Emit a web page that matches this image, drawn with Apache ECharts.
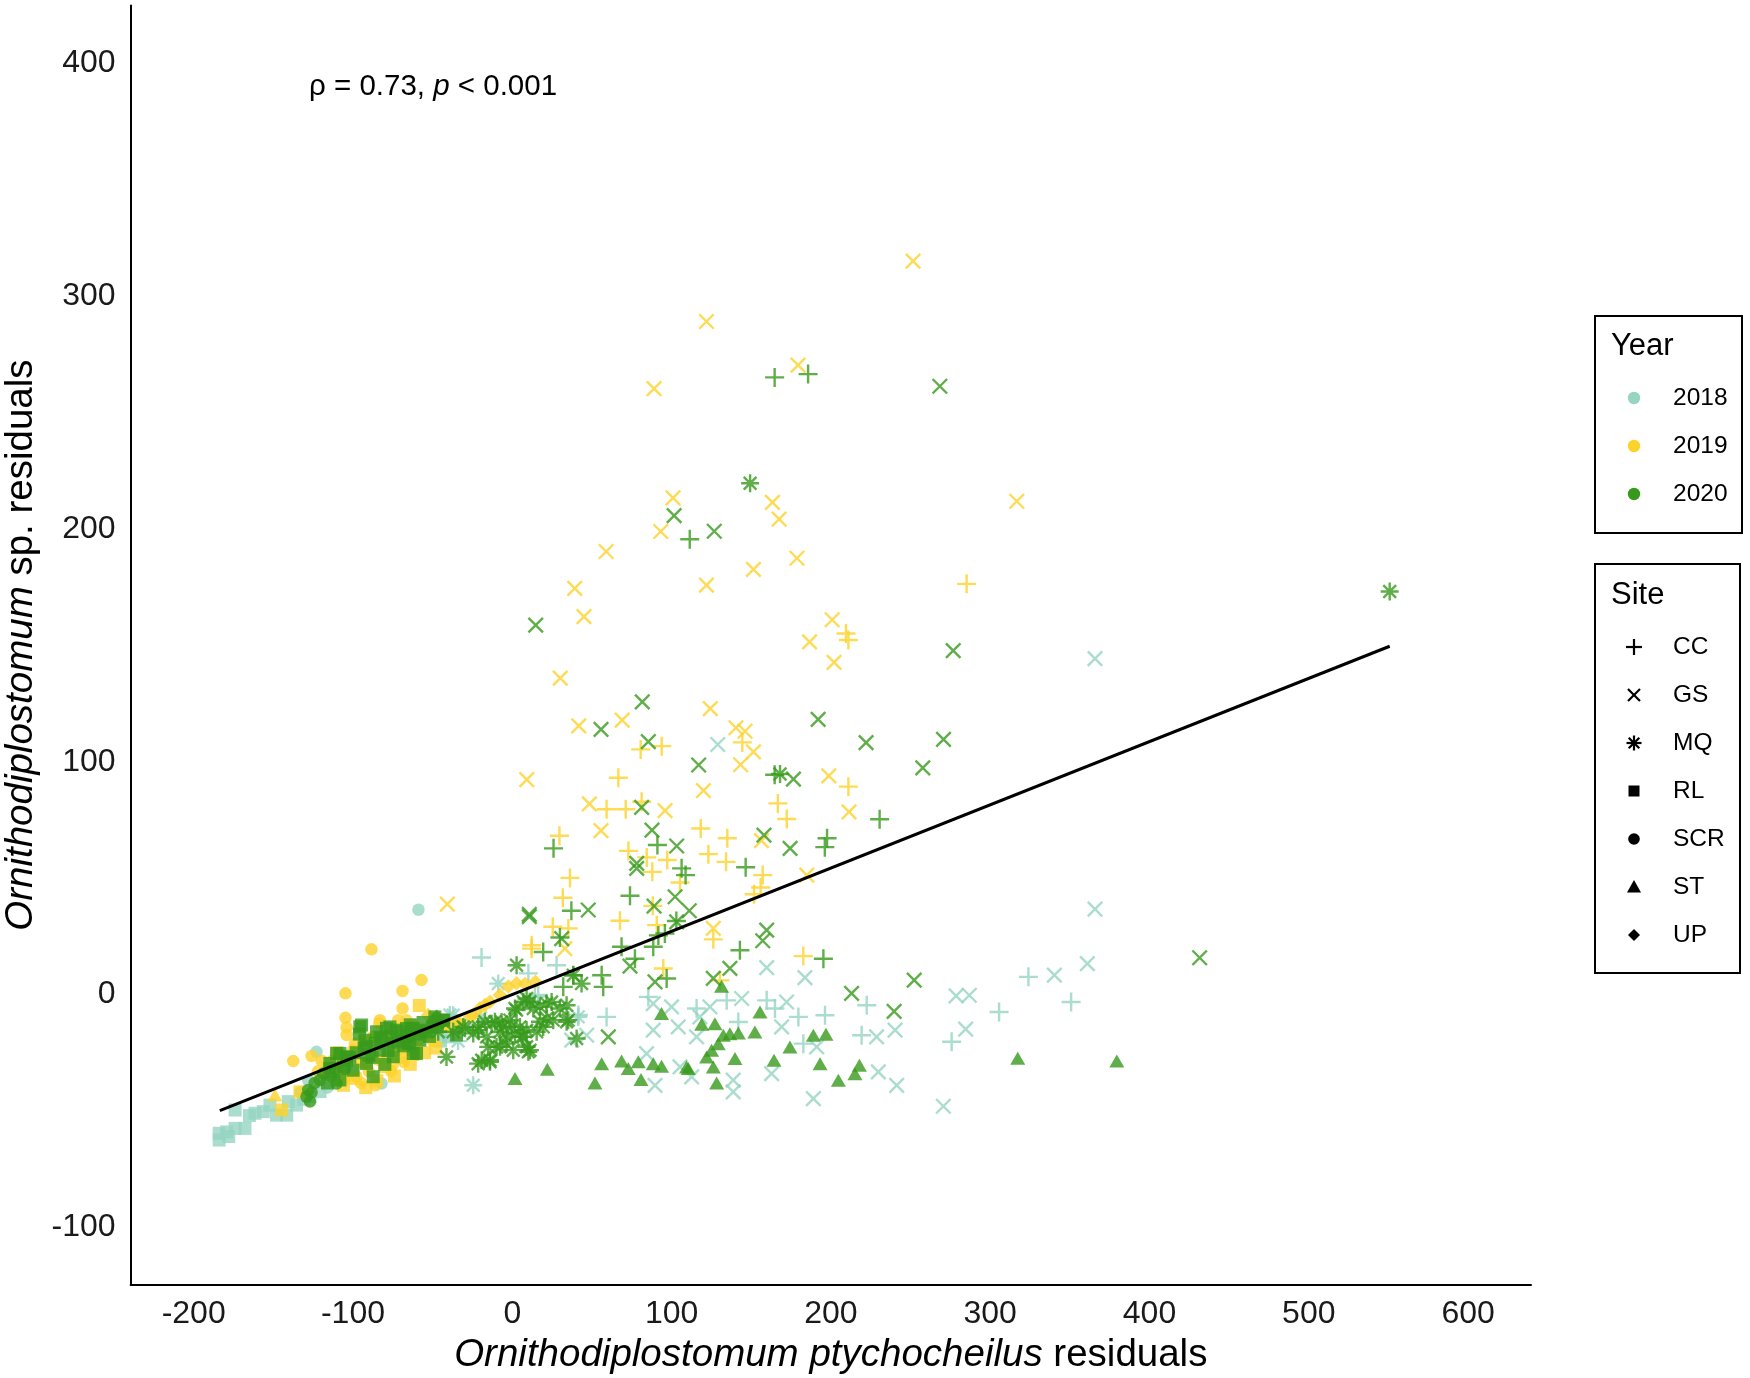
<!DOCTYPE html>
<html><head><meta charset="utf-8">
<script src="https://cdn.jsdelivr.net/npm/echarts@6/dist/echarts.min.js"></script>
<style>html,body{margin:0;padding:0;background:#fff}#c{width:1750px;height:1378px}</style>
</head><body><div id="c"></div>
<script>
// ---------------- data ----------------
const years = ['2018', '2019', '2020'];
const sites = ['CC', 'GS', 'MQ', 'RL', 'SCR', 'ST', 'UP'];
const xTicks = [-200, -100, 0, 100, 200, 300, 400, 500, 600];
const yTicks = [-100, 0, 100, 200, 300, 400];
const fitX = [-183.6, 550.8];
const fitY = [-49.9, 149.6];

const y2018_RL = [[-184,-62.5],[-184,-59.6],[-179.3,-59],[-174,-57.5],[-167.8,-57.5],[-174,-49.6],[-161.5,-51],[-156.3,-50.3],[-152.1,-47.5],[-148,-51.8],[-141.6,-51.8],[-140.6,-46],[-135.4,-47.5],[-127,-43.9],[-120.7,-41.7],[-165,-52],[-131,-45],[-178,-61],[-40.2,-18.2],[-45,-20]];
const y2018_SCR = [[-122.9,-24.6],[-82.1,-38.2],[-58.9,36.4],[-112,-30],[-128,-37],[-100,-33],[-116,-40],[-133,-42]];
const y2018_MQ = [[-24.5,-39],[-8.8,4.7],[41.4,-9.6],[-39.2,-8.8],[-20,-10],[-34,-20],[-37.1,-8.9]];
const y2018_CC = [[-19.3,15.9],[27.8,12.6],[85.4,-1],[59.2,-9.6],[115.7,-6],[134.6,-2.5],[159.7,-2.5],[164.9,-6],[179.6,-9.6],[196.3,-8.9],[222.5,-4.6],[182.7,-21.1],[141.9,-11.8],[324,7.6],[350.8,-3.2],[305.6,-7.5],[275.8,-20.3],[219.3,-17.5],[10.1,9.1],[16.3,-0.2],[41.5,-8.8],[14.2,-1]];
const y2018_GS = [[88.5,-3.9],[100,-5.3],[88.5,-15.3],[104.2,-13.9],[115.7,-18.2],[124.1,-5.3],[117.8,-9.6],[144,-1.7],[159.7,11.6],[169.1,-13.9],[172.2,-3.2],[183.7,7.3],[191.1,-22.5],[162.8,-34],[138.7,-36.8],[138.7,-41.8],[112.6,-35.4],[105.3,-31.1],[89.6,-39],[84.3,-25.4],[189,-44.7],[229.8,-33.2],[241.3,-39],[228.7,-18.2],[240.3,-15.3],[46.7,-17.5],[365.8,36.7],[340.3,8.3],[361,13.3],[278.6,-0.6],[286.9,-0.3],[284.6,-14.9],[270.6,-48],[129,107.4],[365.8,144.3],[37.3,-19.6]];

const y2019_CC = [[285.2,176.4],[209.5,155.1],[211,152.3],[211,89.3],[59.2,79.6],[71.2,79.6],[81.2,82.8],[80.6,105.3],[93.8,106.7],[144.4,108.3],[66.6,93.1],[166.7,82.1],[172.3,75.4],[118.3,71.3],[135,67.1],[123.1,60.3],[134.2,57],[29.6,68.2],[72.9,61.7],[84.4,58.9],[97.3,57.8],[87.9,52.7],[157.2,51.3],[36.2,50.1],[105.3,48.1],[155.9,46],[151.8,43.1],[31.7,41.6],[88.2,38.1],[67.6,31.7],[25.4,29.1],[35.2,28.4],[126.2,23.7],[90.7,29.8],[12.2,21.2],[12.1,19.7],[182.7,16.5],[94.8,11.2],[130.4,6.1]];
const y2019_GS = [[251.6,315],[121.9,289.1],[179.4,270.4],[89,260.3],[316.7,211.9],[100.9,213.3],[163.3,211.4],[167.5,204.2],[93.2,198.9],[121.9,175.9],[151.4,182.6],[178.7,187.4],[58.9,190.3],[39.2,174.5],[45,162.3],[200.8,161],[186.6,151.5],[202,142.7],[30.1,135.9],[124.3,122.8],[69,117.9],[41.7,115.4],[140.4,114.6],[146.1,113.1],[151.4,104.2],[143.3,98.7],[120,87.6],[9.1,92.3],[198.7,93.9],[48.4,81.9],[95.9,79],[55.7,70.4],[156.4,66.1],[211.4,78.5],[126.2,28.4],[184.9,51.3],[-40.8,38.8],[33,19.7]];
const y2019_SCR = [[-88.4,19.4],[-104.7,0.5],[-68.9,1.5],[-57,6.2],[-68.9,-6],[-104.7,-10],[-104,-14.1],[-104,-17.4],[-137.5,-28.6],[-126,-26.4],[-119.7,-28.4],[-83.5,-12.4],[-71.6,-11],[-66.4,-11],[-98.8,-21],[-93.6,-19.6],[-87.3,-18.1],[-79,-19.6],[-62.2,-13.1],[-99.9,-23.9],[-112.4,-28.2],[-97.8,-35.3],[-90,-33],[-75,-30],[-65,-24],[-55,-18],[-50,-20],[-83.1,-11],[-89.4,-19.6],[-110,-32],[-105,-36],[-92,-30],[-84,-28],[-78,-26],[-72,-24],[-68,-29],[-60,-26],[-116,-31],[-122,-33],[-95,-38],[-86,-39],[-76,-33]];
const y2019_RL = [[-58.4,-4.7],[-144.8,-49.6],[-133.3,-41.8],[-110,-25],[-95,-29],[-80,-31],[-70,-27],[-60,-22],[-100,-36],[-85,-37],[-115,-33],[-106,-39],[-92,-40],[-74,-35],[-64,-30],[-55,-25],[-48,-23]];
const y2019_ST = [[-149,-43.2]];
const y2019_UP = [[-52.8,-8.8],[-48,-11],[-43.4,-13.8],[-40.2,-13.8],[-35,-11.7],[-32.8,-12.4],[-26.6,-9.5],[-24.5,-8.8],[-20.3,-5.9],[-17.1,-4.5],[-14,-3.1],[-7.8,-0.2],[-2.5,3.4],[2.7,4.8],[8,4.5],[14.5,5.5]];

const y2020_CC = [[164.7,265.1],[185.7,266.5],[111.4,195.6],[230.6,75.3],[197.6,67.1],[196.2,63.3],[164.7,94.4],[146.5,54.7],[106.3,54.2],[108.8,51.3],[91.1,64.2],[25.9,62.8],[73.9,42.4],[37.1,36],[103,31.6],[29.9,24.5],[91.7,25.4],[19.4,18.3],[56.1,8.3],[57.1,3.3],[32,3.3],[68.6,20.5],[77,15.4],[88.5,20.5],[96.9,6.9],[142.9,19],[195.3,15.4],[95.8,26.2],[38.3,8.3]];
const y2020_GS = [[268.4,261.3],[101.6,205.7],[126.8,199],[14.7,158.7],[276.8,147.7],[81.6,125.7],[192,118.2],[222.1,108.2],[270.7,109.6],[257.7,97.4],[55.7,113.9],[85.4,108.6],[117,98.6],[176.5,92.5],[81.2,80.4],[87.7,70.6],[103.2,63.8],[158,68.5],[174.4,62.8],[78.1,56.3],[78.1,54.2],[102.2,42],[89,38],[111.1,36],[47.7,36.3],[10.7,34.4],[10.7,33.5],[159.7,27.7],[157.2,23.1],[431.5,15.8],[252.3,6.2],[213,0.5],[239.7,-7.2],[103.2,31.2],[31,24],[73.9,12.2],[89.6,5.4],[60.3,-18.2],[136.6,11.2],[126.2,6.9]];
const y2020_MQ = [[149.3,219.6],[550.8,173.1],[168.1,94.7],[2.7,12.6],[-30.8,-13.9],[-41.3,-26.8],[-21.4,-13.9],[-16.1,-18.2],[-13,-12.5],[-7.8,-16.1],[-1.5,-11],[1.7,-6],[-3.6,-21.1],[-9.9,-22.5],[-15.1,-22.5],[-21.4,-29.7],[-14,-28.2],[4.8,-13.9],[6.9,-18.2],[11.1,-23.9],[13.2,-6],[19.4,-13.9],[24.7,-3.2],[29.9,-6],[34.1,-4.6],[35.1,-11],[40.4,-18.9],[38.3,8.3],[43.5,4.7],[-46.5,-16],[9,-1.7],[15.3,-16],[1.7,-16.8],[-6.7,-11.8],[-37.1,-16],[-24.5,-16.7],[-17.2,-11.7],[-5.7,-13.8],[9,-15.3],[21.5,-3.8],[25.7,-11],[6.9,-3.1],[9,-22.4],[17.4,-5.3],[2.7,-6.7],[-0.4,-13.8],[17.4,-11.7],[21.6,-10.3],[34.1,-11.7],[-10.9,-11.7],[-21.3,-15.3],[-3.5,-18.1],[5.9,-18.1],[-7.7,-22.4],[-19.2,-28.2],[-14,-28.9],[10.1,-24.6],[0.6,-23.9],[-29.7,-14.5],[11.1,-3.1]];
const y2020_RL = [[-94.6,-13.1],[-85.2,-16],[-108.2,-25.3],[-79,-14.5],[-72.7,-15.3],[-62.2,-14.5],[-58,-19.6],[-62.2,-25.3],[-91.5,-22.4],[-83.1,-23.9],[-74.7,-21],[-87.3,-35.3],[-35,-17.4],[-104,-28.2],[-99.9,-32.5],[-114.5,-31.7],[-108.2,-36.7],[-91.5,-29.6],[-74.7,-26.7],[-68,-22],[-96,-17],[-88,-27],[-80,-30],[-66,-18],[-54,-16],[-50,-14],[-116,-38],[-112,-33],[-106,-31],[-102,-27],[-98,-25],[-93,-23],[-90,-26],[-86,-21],[-82,-19],[-78,-24],[-76,-18],[-72,-20],[-70,-16],[-66,-21],[-64,-13],[-60,-17],[-56,-12],[-52,-18],[-47,-14],[-43,-11],[-95.7,-13.9],[-76.8,-13.9],[-66.4,-14.6],[-58,-15.3],[-48.6,-9.6],[-43.3,-11],[-92.5,-19.6],[-83.1,-18.2],[-64.3,-21],[-60.1,-25.3],[-110.3,-25.3],[-104,-26.7],[-114.5,-29.6]];
const y2020_SCR = [[-129.2,-43.9],[-128.1,-41],[-118.7,-33.9],[-110.3,-38.2],[-120.8,-36.7],[-114,-35],[-124,-38],[-105,-32],[-127,-46],[-126,-42]];
const y2020_ST = [[1.7,-36.1],[22,-32.1],[56.1,-29.7],[51.9,-38],[68.6,-28.5],[72.8,-31.8],[79.1,-28.9],[80.8,-36.5],[88.5,-29.7],[93.7,-30.8],[109.4,-31.1],[93.7,-8.2],[118.9,-12.8],[127.2,-12.5],[131.4,3.6],[122,-26.8],[125.1,-23.9],[129.3,-21.1],[126.2,-31.1],[132.5,-17.5],[136.6,-16.8],[141.9,-16.5],[139.8,-27.5],[128.3,-38],[152.3,-16.1],[155.5,-7.5],[164.3,-28.2],[174.3,-22.5],[189,-17.5],[196.9,-17.1],[193.2,-29.7],[204.7,-36.8],[215.1,-34],[217.9,-30.4],[110.5,-31.8],[317.3,-27.4],[379.5,-28.5]];
const y2020_UP = [[-47.5,-9.5],[-49.6,-11.7],[-44,-12]];

// ---------------- styles ----------------
const yearColors = { '2018': '#95D5C2', '2019': '#FDD22A', '2020': '#379A1C' };
const shapes = {
  CC:  { symbol: 'path://M0,5L10,5M5,0L5,10', size: 19, stroke: true },
  GS:  { symbol: 'path://M0,0L10,10M0,10L10,0', size: 14.5, stroke: true },
  MQ:  { symbol: 'path://M0,5L10,5M5,0L5,10M1.46,1.46L8.54,8.54M1.46,8.54L8.54,1.46', size: 18, stroke: true },
  RL:  { symbol: 'rect', size: 13 },
  SCR: { symbol: 'circle', size: 12.5 },
  ST:  { symbol: 'triangle', size: [15, 13] },
  UP:  { symbol: 'diamond', size: [14.5, 14.5] }
};
const groups = [
  ['2018','RL',y2018_RL],['2018','SCR',y2018_SCR],['2018','MQ',y2018_MQ],['2018','CC',y2018_CC],['2018','GS',y2018_GS],
  ['2019','CC',y2019_CC],['2019','GS',y2019_GS],['2019','SCR',y2019_SCR],['2019','RL',y2019_RL],['2019','ST',y2019_ST],['2019','UP',y2019_UP],
  ['2020','CC',y2020_CC],['2020','GS',y2020_GS],['2020','ST',y2020_ST],['2020','MQ',y2020_MQ],['2020','RL',y2020_RL],['2020','SCR',y2020_SCR],['2020','UP',y2020_UP]
];
const FONT = 'Liberation Sans, Arial, sans-serif';

const series = groups.map(([yr, st, pts]) => {
  const sh = shapes[st], c = yearColors[yr];
  return {
    type: 'scatter', name: yr + ' ' + st, data: pts,
    symbol: sh.symbol, symbolSize: sh.size, silent: true, z: 2,
    itemStyle: sh.stroke ? { color: 'rgba(0,0,0,0)', borderColor: c, borderWidth: 2.4 } : { color: c, borderWidth: 0 }
  };
});
series.push({
  type: 'line', name: 'fit', data: fitX.map((x, i) => [x, fitY[i]]),
  showSymbol: false, silent: true, z: 5,
  lineStyle: { color: '#000', width: 3 }
});

// ---------------- legends (graphic) ----------------
function icon(site, cx, cy) {
  const k = '#000', ln = (x1, y1, x2, y2) => ({ type: 'line', shape: { x1, y1, x2, y2 }, style: { stroke: k, lineWidth: 2.2 } });
  switch (site) {
    case 'CC': return [ln(cx-8,cy,cx+8,cy), ln(cx,cy-8,cx,cy+8)];
    case 'GS': return [ln(cx-6,cy-6,cx+6,cy+6), ln(cx-6,cy+6,cx+6,cy-6)];
    case 'MQ': return [ln(cx-7.5,cy,cx+7.5,cy), ln(cx,cy-7.5,cx,cy+7.5), ln(cx-5.3,cy-5.3,cx+5.3,cy+5.3), ln(cx-5.3,cy+5.3,cx+5.3,cy-5.3)];
    case 'RL': return [{ type: 'rect', shape: { x: cx-5.5, y: cy-5.5, width: 11, height: 11 }, style: { fill: k } }];
    case 'SCR': return [{ type: 'circle', shape: { cx, cy, r: 5.8 }, style: { fill: k } }];
    case 'ST': return [{ type: 'polygon', shape: { points: [[cx,cy-7],[cx-7,cy+5.5],[cx+7,cy+5.5]] }, style: { fill: k } }];
    case 'UP': return [{ type: 'polygon', shape: { points: [[cx,cy-6],[cx+6,cy],[cx,cy+6],[cx-6,cy]] }, style: { fill: k } }];
  }
}
const graphics = [];
graphics.push({ type: 'rect', shape: { x: 1595, y: 316, width: 147, height: 217 }, style: { fill: '#fff', stroke: '#000', lineWidth: 2 } });
graphics.push({ type: 'text', x: 1611, y: 346, style: { text: 'Year', font: '31px ' + FONT, fill: '#000', verticalAlign: 'middle' } });
years.forEach((yr, i) => {
  const cy = 398 + i * 48;
  graphics.push({ type: 'circle', shape: { cx: 1634, cy, r: 6.2 }, style: { fill: yearColors[yr] } });
  graphics.push({ type: 'text', x: 1673, y: cy, style: { text: yr, font: '24.5px ' + FONT, fill: '#000', verticalAlign: 'middle' } });
});
graphics.push({ type: 'rect', shape: { x: 1595, y: 564, width: 145, height: 409 }, style: { fill: '#fff', stroke: '#000', lineWidth: 2 } });
graphics.push({ type: 'text', x: 1611, y: 595, style: { text: 'Site', font: '31px ' + FONT, fill: '#000', verticalAlign: 'middle' } });
sites.forEach((st, i) => {
  const cy = 647 + i * 48;
  icon(st, 1634, cy).forEach(g => graphics.push(g));
  graphics.push({ type: 'text', x: 1673, y: cy, style: { text: st, font: '24.5px ' + FONT, fill: '#000', verticalAlign: 'middle' } });
});
graphics.push({
  type: 'text', x: 309, y: 87,
  style: {
    text: '{n|ρ = 0.73, }{i|p}{n| < 0.001}', verticalAlign: 'middle',
    rich: { n: { fontSize: 29.5, fontFamily: FONT, fill: '#000' }, i: { fontSize: 29.5, fontFamily: FONT, fontStyle: 'italic', fill: '#000' } }
  }
});

// ---------------- chart ----------------
const chart = echarts.init(document.getElementById('c'), null, { renderer: 'canvas' });
const axisCommon = {
  type: 'value', splitLine: { show: false }, axisTick: { show: false },
  axisLine: { show: true, onZero: false, lineStyle: { color: '#000', width: 2 } },
  nameLocation: 'middle'
};
const titleRich = {
  i: { fontSize: 38.5, fontFamily: FONT, fontStyle: 'italic', color: '#000' },
  n: { fontSize: 38.5, fontFamily: FONT, color: '#000' }
};
chart.setOption({
  animation: false,
  backgroundColor: '#fff',
  grid: { left: 130.6, right: 219, top: 5.6, bottom: 93.4, containLabel: false, outerBoundsMode: 'none' },
  xAxis: Object.assign({}, axisCommon, {
    min: -239.6, max: 639.5,
    axisLabel: { customValues: xTicks, formatter: v => String(v), fontSize: 32, fontFamily: FONT, color: '#1a1a1a', margin: 14 },
    name: '{i|Ornithodiplostomum ptychocheilus}{n| residuals}', nameGap: 50,
    nameTextStyle: { rich: titleRich }
  }),
  yAxis: Object.assign({}, axisCommon, {
    min: -124.6, max: 424.8,
    axisLabel: { customValues: yTicks, formatter: v => String(v), fontSize: 32, fontFamily: FONT, color: '#1a1a1a', margin: 15 },
    name: '{i|Ornithodiplostomum}{n| sp. residuals}', nameGap: 90, nameRotate: 90,
    nameTextStyle: { rich: titleRich }
  }),
  series: series,
  graphic: { elements: graphics }
});
</script>
</body></html>
